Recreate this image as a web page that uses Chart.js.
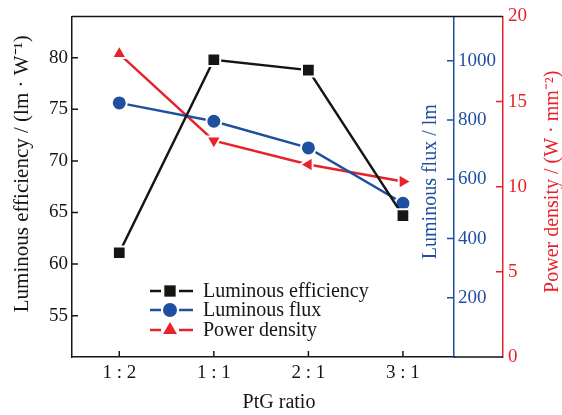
<!DOCTYPE html>
<html>
<head>
<meta charset="utf-8">
<script src="https://cdn.jsdelivr.net/npm/chart.js@4.4.1/dist/chart.umd.min.js"></script>
<style>
  html, body { margin: 0; padding: 0; background: #fff; }
</style>
</head>
<body>
<canvas id="chart" width="562" height="415"></canvas>
<script>
// data
const ratios = ['1 : 2', '1 : 1', '2 : 1', '3 : 1'];
const efficiency = [61.1, 79.8, 78.8, 64.7];     // lm/W, left axis
const flux = [858, 796, 706, 519];               // lm, blue axis
const powerDensity = [17.8, 12.7, 11.3, 10.3];   // W/mm2, red axis

const BLACK = '#151515';
const BLUE = '#1f4f9f';
const RED = '#e8222a';
const FONT = 'Liberation Serif';

// x is a plain index so the categories sit where the figure has them
const pts = (arr) => arr.map((v, i) => ({ x: i, y: v }));

// inward tick marks, extra frame lines, the axis titles and the legend
const decorations = {
    id: 'decorations',
    afterDraw(chart) {
        const ctx = chart.ctx;
        const area = chart.chartArea;
        const s = chart.scales;
        const redX = s.yPow.left;
        ctx.save();
        ctx.lineWidth = 1.5;

        // top and bottom lines run across to the red axis
        ctx.strokeStyle = BLACK;
        ctx.beginPath();
        ctx.moveTo(area.left, area.top);
        ctx.lineTo(redX, area.top);
        ctx.moveTo(area.right, area.bottom);
        ctx.lineTo(redX, area.bottom);
        ctx.stroke();

        // ticks
        ctx.beginPath();
        s.x.ticks.forEach(t => {
            const px = s.x.getPixelForValue(t.value);
            ctx.moveTo(px, area.bottom);
            ctx.lineTo(px, area.bottom - 6);
        });
        s.yEff.ticks.forEach(t => {
            const py = s.yEff.getPixelForValue(t.value);
            ctx.moveTo(area.left, py);
            ctx.lineTo(area.left + 6, py);
        });
        ctx.stroke();

        ctx.strokeStyle = BLUE;
        ctx.beginPath();
        s.yFlux.ticks.forEach(t => {
            if (t.value === 0) return;
            const py = s.yFlux.getPixelForValue(t.value);
            ctx.moveTo(area.right, py);
            ctx.lineTo(area.right - 7, py);
        });
        ctx.stroke();

        ctx.strokeStyle = RED;
        ctx.beginPath();
        s.yPow.ticks.forEach(t => {
            if (t.value === 0 || t.value === 20) return;
            const py = s.yPow.getPixelForValue(t.value);
            ctx.moveTo(redX, py);
            ctx.lineTo(redX - 7, py);
        });
        ctx.stroke();

        // axis titles
        const midY = (area.top + area.bottom) / 2;
        ctx.textAlign = 'center';
        ctx.textBaseline = 'middle';
        const vtitle = (text, x, y, color, size) => {
            ctx.save();
            ctx.translate(x, y);
            ctx.rotate(-Math.PI / 2);
            ctx.font = size + 'px "' + FONT + '"';
            ctx.fillStyle = color;
            ctx.fillText(text, 0, 0);
            ctx.restore();
        };
        vtitle('Luminous efficiency / (lm \u00b7 W\u207b\u00b9)', 22, midY - 13, BLACK, 21);
        vtitle('Luminous flux / lm', area.right - 23, midY - 5, BLUE, 20);
        vtitle('Power density / (W \u00b7 mm\u207b\u00b2)', 553, midY - 5, RED, 20);

        ctx.font = '20px "' + FONT + '"';
        ctx.fillStyle = BLACK;
        ctx.fillText('PtG ratio', 279, 403);

        // legend
        const rows = [291, 310, 330];
        chart.data.datasets.forEach((ds, i) => {
            const y = rows[i];
            const cx = 170;
            ctx.strokeStyle = ds.borderColor;
            ctx.lineWidth = 2.5;
            ctx.beginPath();
            ctx.moveTo(150, y);
            ctx.lineTo(cx - 9, y);
            ctx.moveTo(cx + 9, y);
            ctx.lineTo(193, y);
            ctx.stroke();
            ctx.fillStyle = ds.borderColor;
            Chart.helpers.drawPoint(ctx, {
                pointStyle: ds.pointStyle,
                radius: ds.legendRadius,
                rotation: 0,
                borderWidth: 0
            }, cx, y);
            ctx.fillStyle = BLACK;
            ctx.textAlign = 'left';
            ctx.fillText(ds.label, 203, y + 1);
        });
        ctx.restore();
    }
};

new Chart(document.getElementById('chart'), {
    type: 'line',
    data: {
        datasets: [{
            label: 'Luminous efficiency',
            data: pts(efficiency),
            yAxisID: 'yEff',
            borderColor: BLACK,
            backgroundColor: BLACK,
            borderWidth: 2.5,
            pointStyle: 'rect',
            pointRadius: 9,
            legendRadius: 8,
            pointBorderColor: '#fff',
            pointBorderWidth: 2
        }, {
            label: 'Luminous flux',
            data: pts(flux),
            yAxisID: 'yFlux',
            borderColor: BLUE,
            backgroundColor: BLUE,
            borderWidth: 2.5,
            pointStyle: 'circle',
            pointRadius: 7.5,
            legendRadius: 7,
            pointBorderColor: '#fff',
            pointBorderWidth: 2
        }, {
            label: 'Power density',
            data: pts(powerDensity),
            yAxisID: 'yPow',
            borderColor: RED,
            backgroundColor: RED,
            borderWidth: 2.5,
            pointStyle: 'triangle',
            pointRotation: [0, 180, -90, 90],
            pointRadius: 8.5,
            legendRadius: 8,
            pointBorderColor: '#fff',
            pointBorderWidth: 2
        }]
    },
    options: {
        responsive: false,
        animation: false,
        layout: { padding: { top: 13, left: 0, right: 0, bottom: 0 } },
        plugins: {
            legend: { display: false },
            tooltip: { enabled: false }
        },
        scales: {
            x: {
                type: 'linear',
                min: -0.5, max: 3.54,
                grid: { display: false, drawTicks: false },
                border: { display: true, color: BLACK, width: 1.5 },
                ticks: {
                    stepSize: 1, includeBounds: false, color: BLACK, padding: 5,
                    font: { family: FONT, size: 19 },
                    callback: (v) => ratios[v] ?? ''
                },
                afterFit: (scale) => { scale.height = 58; }
            },
            yEff: {
                position: 'left',
                min: 51, max: 84,
                grid: { display: false, drawTicks: false },
                border: { display: true, color: BLACK, width: 1.5 },
                ticks: {
                    stepSize: 5, includeBounds: false, color: BLACK, padding: 4,
                    font: { family: FONT, size: 19 }
                },
                afterFit: (scale) => { scale.width = 72; }
            },
            yFlux: {
                position: 'right',
                min: 0, max: 1150,
                grid: { display: false, drawTicks: false },
                border: { display: true, color: BLUE, width: 1.5 },
                ticks: {
                    stepSize: 200, includeBounds: false, color: BLUE, padding: 4,
                    font: { family: FONT, size: 19 },
                    callback: (v) => v === 0 ? '' : v
                },
                afterFit: (scale) => { scale.width = 49; }
            },
            yPow: {
                position: 'right',
                min: 0, max: 20,
                grid: { display: false, drawTicks: false },
                border: { display: true, color: RED, width: 1.5 },
                ticks: {
                    stepSize: 5, color: RED, padding: 5,
                    font: { family: FONT, size: 19 }
                },
                afterFit: (scale) => { scale.width = 59; }
            }
        }
    },
    plugins: [decorations]
});
</script>
</body>
</html>
